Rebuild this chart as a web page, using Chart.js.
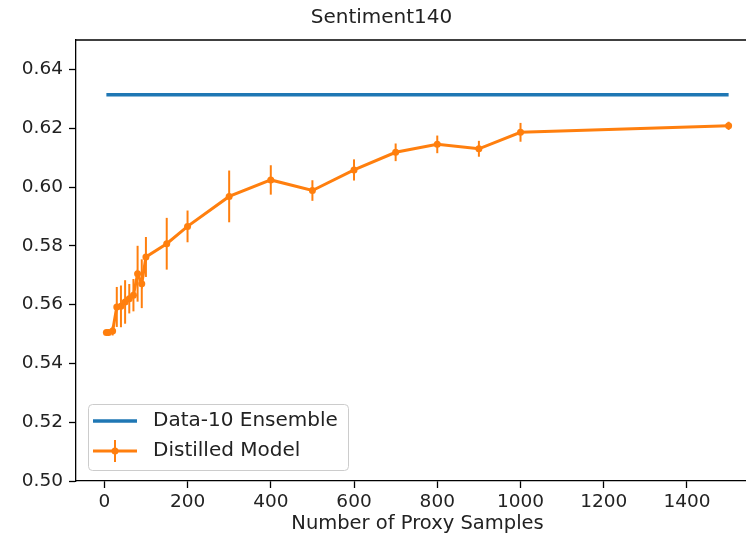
<!DOCTYPE html>
<html>
<head>
<meta charset="utf-8">
<script src="https://cdn.jsdelivr.net/npm/chart.js@4/dist/chart.umd.min.js"></script>
<style>
  html, body { margin: 0; background: #fff; overflow: hidden; }
  canvas { display: block; }
</style>
</head>
<body>
<!-- canvas is a bit wider than the window: the original figure is cropped on the right -->
<canvas id="sentChart" width="763" height="545"></canvas>
<script>
// values
const sampleCounts = [5, 10, 20, 30, 40, 50, 60, 70, 80, 90, 100, 150, 200, 300, 400, 500, 600, 700, 800, 900, 1000, 1500];
const distilledAcc = [0.5505, 0.5505, 0.5510, 0.5592, 0.5594, 0.5609, 0.5620, 0.5632, 0.5705, 0.5671, 0.5762, 0.5807, 0.5866, 0.5968, 0.6024, 0.5988, 0.6058, 0.6118, 0.6145, 0.6130, 0.6186, 0.6208];
const distilledErr = [0.0008, 0.001, 0.0015, 0.0068, 0.0071, 0.0074, 0.005, 0.0055, 0.0095, 0.0083, 0.0068, 0.0088, 0.0054, 0.0088, 0.005, 0.0035, 0.0036, 0.003, 0.003, 0.0027, 0.0032, 0.0014];
const ensembleX = [5, 1500];
const ensembleAcc = [0.6314, 0.6314];
const xTicks = [0, 200, 400, 600, 800, 1000, 1200, 1400];
const yTicks = [0.50, 0.52, 0.54, 0.56, 0.58, 0.60, 0.62, 0.64];

const BLUE = '#1f77b4';
const ORANGE = '#ff7f0e';
const FONT = 'DejaVu Sans';

const toPoints = (xs, ys) => xs.map((x, i) => ({ x: x, y: ys[i] }));

// vertical error bars, drawn through the chart scales
const errorBars = {
  id: 'errorBars',
  afterDatasetsDraw(chart) {
    const ctx = chart.ctx;
    const xs = chart.scales.x, ys = chart.scales.y;
    ctx.save();
    ctx.strokeStyle = ORANGE;
    ctx.lineWidth = 2;
    sampleCounts.forEach((n, i) => {
      const px = xs.getPixelForValue(n);
      ctx.beginPath();
      ctx.moveTo(px, ys.getPixelForValue(distilledAcc[i] - distilledErr[i]));
      ctx.lineTo(px, ys.getPixelForValue(distilledAcc[i] + distilledErr[i]));
      ctx.stroke();
    });
    ctx.restore();
  }
};

// matplotlib-like top frame + legend box in lower left
const frameAndLegend = {
  id: 'frameAndLegend',
  afterDraw(chart) {
    const ctx = chart.ctx;
    const a = chart.chartArea;
    ctx.save();
    ctx.strokeStyle = '#000';
    ctx.lineWidth = 1.3;
    ctx.beginPath();
    ctx.moveTo(a.left, a.top);
    ctx.lineTo(a.right, a.top);
    ctx.stroke();

    const bx = a.left + 12, by = a.bottom - 77, bw = 260, bh = 66;
    ctx.beginPath();
    ctx.roundRect(bx + 0.5, by + 0.5, bw, bh, 4);
    ctx.fillStyle = 'rgba(255,255,255,0.8)';
    ctx.fill();
    ctx.strokeStyle = '#cccccc';
    ctx.lineWidth = 1;
    ctx.stroke();

    const ds = chart.data.datasets;
    ctx.font = '20px "' + FONT + '"';
    ctx.textBaseline = 'middle';
    ctx.fillStyle = '#222';

    let y = by + 17;
    ctx.strokeStyle = ds[0].borderColor;
    ctx.lineWidth = 3.5;
    ctx.beginPath(); ctx.moveTo(bx + 5, y); ctx.lineTo(bx + 49, y); ctx.stroke();
    ctx.fillText(ds[0].label, bx + 65, y);

    y = by + 47;
    ctx.strokeStyle = ds[1].borderColor;
    ctx.lineWidth = 3;
    ctx.beginPath(); ctx.moveTo(bx + 5, y); ctx.lineTo(bx + 49, y); ctx.stroke();
    ctx.lineWidth = 2;
    ctx.beginPath(); ctx.moveTo(bx + 27, y - 11); ctx.lineTo(bx + 27, y + 11); ctx.stroke();
    ctx.fillStyle = ds[1].borderColor;
    ctx.beginPath(); ctx.arc(bx + 27, y, 3.5, 0, Math.PI * 2); ctx.fill();
    ctx.fillStyle = '#222';
    ctx.fillText(ds[1].label, bx + 65, y);
    ctx.restore();
  }
};

const data = {
  datasets: [{
    label: 'Data-10 Ensemble',
    data: toPoints(ensembleX, ensembleAcc),
    borderColor: BLUE,
    backgroundColor: BLUE,
    borderWidth: 3.5,
    pointRadius: 0
  }, {
    label: 'Distilled Model',
    data: toPoints(sampleCounts, distilledAcc),
    borderColor: ORANGE,
    backgroundColor: ORANGE,
    borderWidth: 3,
    pointRadius: 3.5,
    pointBorderWidth: 0
  }]
};

const config = {
  type: 'line',
  data: data,
  options: {
    responsive: false,
    animation: false,
    devicePixelRatio: 1,
    layout: { padding: { left: 0, right: 0, top: 0, bottom: 0 } },
    plugins: {
      legend: { display: false },
      tooltip: { enabled: false },
      title: {
        display: true,
        text: 'Sentiment140',
        color: '#222',
        font: { family: FONT, size: 20, weight: 'normal', lineHeight: 1.2 },
        padding: { top: 6, bottom: 10 }
      }
    },
    scales: {
      x: {
        type: 'linear',
        min: -68,
        max: 1573,
        afterBuildTicks: (s) => { s.ticks = xTicks.map(v => ({ value: v })); },
        afterFit: (s) => { s.height = 64; },
        grid: { drawOnChartArea: false, drawTicks: true, tickLength: 7, tickColor: '#000', tickWidth: 1.3 },
        border: { display: true, color: '#000', width: 1.3 },
        ticks: {
          color: '#222',
          padding: 3,
          maxRotation: 0,
          font: { family: FONT, size: 18.5 },
          callback: (v) => String(v)
        },
        title: {
          display: true,
          text: 'Number of Proxy Samples',
          color: '#222',
          font: { family: FONT, size: 19.5, lineHeight: 1.2 },
          padding: { top: 0, bottom: 9 }
        }
      },
      y: {
        min: 0.50,
        max: 0.65,
        afterBuildTicks: (s) => { s.ticks = yTicks.map(v => ({ value: v })); },
        afterFit: (s) => { s.width = 76; },
        grid: { drawOnChartArea: false, drawTicks: true, tickLength: 7, tickColor: '#000', tickWidth: 1.3 },
        border: { display: true, color: '#000', width: 1.3 },
        ticks: {
          color: '#222',
          padding: 6,
          font: { family: FONT, size: 18.5 },
          callback: (v) => v.toFixed(2)
        }
      }
    }
  },
  plugins: [errorBars, frameAndLegend]
};

const sentChart = new Chart(document.getElementById('sentChart'), config);
</script>
</body>
</html>
